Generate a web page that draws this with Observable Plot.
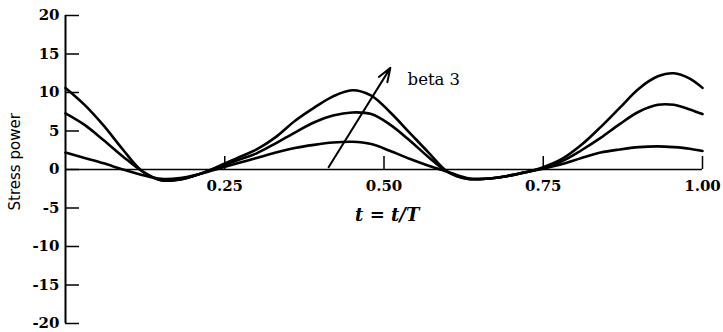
<!DOCTYPE html>
<html>
<head>
<meta charset="utf-8">
<script src="https://cdn.jsdelivr.net/npm/d3@7"></script>
<script src="https://cdn.jsdelivr.net/npm/@observablehq/plot@0.6"></script>
<style>
  html, body { margin: 0; padding: 0; background: #fff; }
  #chart svg { display: block; }
</style>
</head>
<body>
<div id="chart"></div>
<script>
// Normalised time t/T over one cycle
const tValues = [0, 0.03, 0.06, 0.09, 0.12, 0.15, 0.18, 0.21, 0.24, 0.27, 0.30, 0.33, 0.36, 0.39, 0.42, 0.45, 0.48, 0.51, 0.54, 0.57, 0.60, 0.63, 0.66, 0.69, 0.72, 0.75, 0.78, 0.81, 0.84, 0.87, 0.90, 0.93, 0.955, 0.98, 1.0];

// Stress power for three values of beta (smallest to largest)
const betaLow  = [2.2, 1.5, 0.8, 0.0, -0.7, -1.2, -1.1, -0.6, 0.1, 0.8, 1.5, 2.2, 2.8, 3.2, 3.5, 3.6, 3.3, 2.4, 1.4, 0.5, -0.3, -1.1, -1.2, -0.9, -0.4, 0.1, 0.7, 1.5, 2.2, 2.6, 2.9, 3.0, 2.9, 2.7, 2.4];
const betaMid  = [7.3, 5.8, 3.8, 1.7, -0.2, -1.4, -1.3, -0.6, 0.3, 1.2, 2.1, 3.4, 4.8, 6.1, 7.0, 7.4, 7.2, 5.8, 3.8, 1.6, -0.3, -1.2, -1.2, -0.9, -0.4, 0.2, 1.1, 2.5, 4.1, 5.9, 7.5, 8.4, 8.4, 7.8, 7.2];
const betaHigh = [10.6, 8.4, 5.7, 2.6, -0.2, -1.4, -1.3, -0.6, 0.4, 1.5, 2.6, 4.2, 6.3, 8.0, 9.5, 10.3, 9.6, 7.4, 4.8, 2.2, -0.3, -1.2, -1.2, -0.9, -0.4, 0.3, 1.4, 3.2, 5.5, 8.0, 10.5, 12.1, 12.5, 11.8, 10.6];

// Axis ticks
const xTicks = [0.25, 0.5, 0.75, 1];
const yTicks = [-20, -15, -10, -5, 0, 5, 10, 15, 20];

// Text
const xTitle = "t = t/T";
const yTitle = "Stress power";
const arrowLabel = "beta 3";

// Arrow showing the direction of increasing beta
const arrowFrom = {t: 0.413, v: 0.3};
const arrowTo = {t: 0.51, v: 13.2};
const labelAt = {t: 0.537, v: 11.6};

const series = [
  {name: "low", values: betaLow},
  {name: "mid", values: betaMid},
  {name: "high", values: betaHigh}
];
const rows = series.flatMap(s => s.values.map((v, i) => ({t: tValues[i], v, series: s.name})));

const serif = "'DejaVu Serif', serif";

const chart = Plot.plot({
  width: 723,
  height: 332,
  marginLeft: 65,
  marginRight: 21,
  marginTop: 15,
  marginBottom: 9,
  style: {background: "#fff", color: "#000", overflow: "visible"},
  x: {domain: [0, 1], axis: null},
  y: {domain: [-20, 20], axis: null},
  marks: [
    // axis lines
    Plot.ruleX([0], {stroke: "#000", strokeWidth: 2}),
    Plot.ruleY([0], {stroke: "#000", strokeWidth: 1.6}),
    // y ticks pointing inward
    Plot.ruleY(yTicks, {y: d => d, x1: 0, x2: 0, insetRight: -14, stroke: "#000", strokeWidth: 1.5}),
    // x ticks pointing up from the zero line
    Plot.ruleX(xTicks, {x: d => d, y1: 0, y2: 0, insetTop: -13, stroke: "#000", strokeWidth: 1.5}),
    // tick labels
    Plot.text(yTicks, {
      y: d => d, frameAnchor: "left", textAnchor: "end", dx: -6,
      text: d => String(d), fontSize: 15, fontWeight: "bold", fontFamily: serif, fill: "#000"
    }),
    Plot.text(xTicks, {
      x: d => d, y: () => 0, dy: 17,
      text: d => d.toFixed(2), fontSize: 15, fontWeight: "bold", fontFamily: serif, fill: "#000"
    }),
    // axis titles
    Plot.text([xTitle], {
      x: () => 0.505, y: () => 0, dy: 46, text: d => d,
      fontSize: 18, fontStyle: "italic", fontWeight: "bold", fontFamily: serif, fill: "#000"
    }),
    Plot.text([yTitle], {
      frameAnchor: "left", y: () => 1, dx: -50, rotate: -90, textAnchor: "middle", text: d => d,
      fontSize: 15, fontFamily: "'DejaVu Sans', sans-serif", fill: "#000"
    }),
    // stress power curves
    Plot.line(rows, {
      x: "t", y: "v", z: "series", stroke: "#000", strokeWidth: 2.6,
      curve: "catmull-rom", strokeLinejoin: "round"
    }),
    // beta arrow and label
    Plot.arrow([0], {
      x1: () => arrowFrom.t, y1: () => arrowFrom.v, x2: () => arrowTo.t, y2: () => arrowTo.v,
      stroke: "#000", strokeWidth: 2, headLength: 11, headAngle: 40
    }),
    Plot.text([arrowLabel], {
      x: () => labelAt.t, y: () => labelAt.v, text: d => d, textAnchor: "start",
      fontSize: 16.5, fontFamily: serif, fill: "#000"
    })
  ]
});

document.getElementById("chart").append(chart);
</script>
</body>
</html>
